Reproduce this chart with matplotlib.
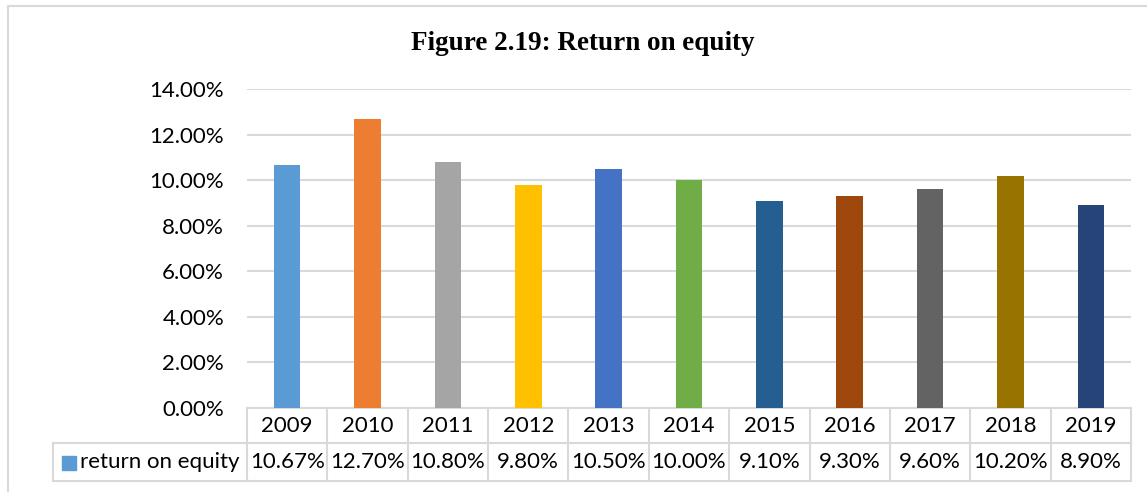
import matplotlib
matplotlib.use('Agg')
import matplotlib.pyplot as plt
from matplotlib.ticker import PercentFormatter
from matplotlib.patches import Rectangle
import matplotlib.transforms as mtransforms

years = ['2009', '2010', '2011', '2012', '2013', '2014', '2015', '2016', '2017', '2018', '2019']
roe = [0.1067, 0.1270, 0.1080, 0.0980, 0.1050, 0.1000, 0.0910, 0.0930, 0.0960, 0.1020, 0.0890]
roe_labels = ['10.67%', '12.70%', '10.80%', '9.80%', '10.50%', '10.00%', '9.10%', '9.30%', '9.60%', '10.20%', '8.90%']
series_name = 'return on equity'
title = 'Figure 2.19: Return on equity'
colors = ['#5B9BD5', '#ED7D31', '#A5A5A5', '#FFC000', '#4472C4', '#70AD47',
          '#255E91', '#9E480E', '#636363', '#997300', '#264478']

W, H = 1147, 492
grid_c = '#d9d9d9'
fs = 16
plt.rcParams['font.family'] = ['Lato', 'DejaVu Sans']

fig = plt.figure(figsize=(W / 100, H / 100), dpi=100)
# plot area in pixels: x 247..1131, y 89..408
ax = fig.add_axes([247 / W, 1 - 408 / H, (1131 - 247) / W, (408 - 89) / H])

x = list(range(len(years)))
ax.bar(x, roe, width=0.33, color=colors, zorder=3)
ax.set_xlim(-0.5, len(years) - 0.5)
ax.set_ylim(0, 0.14)
ax.set_yticks([i * 0.02 for i in range(8)])
ax.yaxis.set_major_formatter(PercentFormatter(1.0, decimals=2))
ax.grid(axis='y', color=grid_c, lw=1.5, zorder=0)
ax.set_xticks([])
for s in ax.spines.values():
    s.set_visible(False)
ax.tick_params(axis='y', length=0, pad=16.5, labelsize=fs)

# data table under the plot: x in data coords, y in axes fraction
tr = mtransforms.blended_transform_factory(ax.transData, ax.transAxes)
ph = 408 - 89
r1 = -35 / ph
r2 = -73 / ph
lw = 1.5
kw = dict(transform=tr, color=grid_c, lw=lw, clip_on=False, zorder=1)
n = len(years)
ax.plot([-0.5, n - 0.5], [0, 0], **kw)
ax.plot([-0.5, n - 0.5], [r1, r1], **kw)
ax.plot([-0.5, n - 0.5], [r2, r2], **kw)
for i in range(n + 1):
    ax.plot([i - 0.5, i - 0.5], [0, r2], **kw)
# legend cell to the left
fx = fig.transFigure
lkw = dict(transform=fx, color=grid_c, lw=lw, clip_on=False)
yr1 = 1 - 443 / H
yr2 = 1 - 481 / H
fig.add_artist(plt.Line2D([53 / W, 247 / W], [yr1, yr1], **lkw))
fig.add_artist(plt.Line2D([53 / W, 247 / W], [yr2, yr2], **lkw))
fig.add_artist(plt.Line2D([53 / W, 53 / W], [yr1, yr2], **lkw))

for i in range(n):
    ax.text(i, r1 / 2, years[i], transform=tr, ha='center', va='center', fontsize=fs)
    ax.text(i, (r1 + r2) / 2, roe_labels[i], transform=tr, ha='center', va='center', fontsize=fs)

ymid = (yr1 + yr2) / 2
fig.add_artist(Rectangle((62 / W, 1 - 470 / H), 14 / W, 14 / H, transform=fx, color=colors[0]))
fig.text(80 / W, ymid, series_name, ha='left', va='center', fontsize=fs)

fig.text(583 / W, 1 - 43 / H, title, ha='center', va='center', fontsize=19.5,
         fontweight='bold', family='Liberation Serif')

# outer chart border
fig.add_artist(plt.Line2D([8 / W, 8 / W, 1.01], [-0.01, 1 - 6 / H, 1 - 6 / H], **lkw))

fig.savefig('out.png', dpi=100)
